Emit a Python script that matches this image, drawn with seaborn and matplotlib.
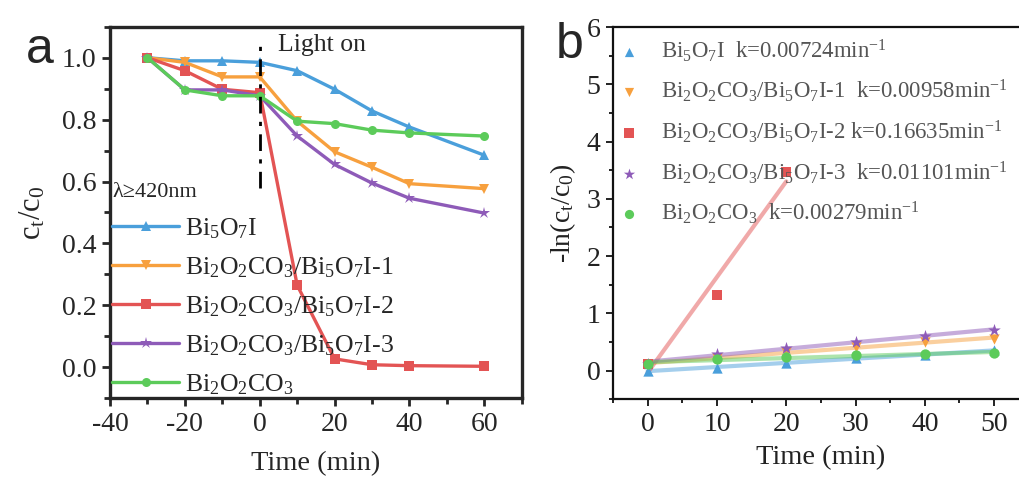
import numpy as np
import pandas as pd
import matplotlib
matplotlib.use("Agg")
import matplotlib.pyplot as plt
import seaborn as sns
from matplotlib.ticker import MultipleLocator

# ---------------- data ----------------
time_a = [-30, -20, -10, 0, 10, 20, 30, 40, 60]
bi5o7i = [1.00, 0.99, 0.99, 0.985, 0.958, 0.898, 0.828, 0.776, 0.685]
comp1 = [1.00, 0.985, 0.938, 0.938, 0.795, 0.696, 0.646, 0.593, 0.577]
comp2 = [1.00, 0.958, 0.898, 0.887, 0.265, 0.027, 0.008, 0.005, 0.003]
comp3 = [1.00, 0.896, 0.896, 0.877, 0.747, 0.655, 0.595, 0.546, 0.498]
bi2o2co3 = [1.00, 0.896, 0.877, 0.877, 0.795, 0.787, 0.766, 0.757, 0.747]

time_b = [0, 10, 20, 30, 40, 50]
time_b_red = [0, 10, 20]
k_bi5o7i = [0.0, 0.05, 0.13, 0.21, 0.27, 0.36]
k_comp1 = [0.11, 0.22, 0.32, 0.415, 0.50, 0.55]
k_comp2 = [0.12, 1.32, 3.46]
k_comp3 = [0.12, 0.29, 0.40, 0.50, 0.61, 0.70]
k_bi2o2co3 = [0.11, 0.20, 0.24, 0.27, 0.29, 0.30]

labels_a = ["Bi$_5$O$_7$I", "Bi$_2$O$_2$CO$_3$/Bi$_5$O$_7$I-1",
            "Bi$_2$O$_2$CO$_3$/Bi$_5$O$_7$I-2", "Bi$_2$O$_2$CO$_3$/Bi$_5$O$_7$I-3",
            "Bi$_2$O$_2$CO$_3$"]
labels_b = ["Bi$_5$O$_7$I  k=0.00724min$^{-1}$",
            "Bi$_2$O$_2$CO$_3$/Bi$_5$O$_7$I-1  k=0.00958min$^{-1}$",
            "Bi$_2$O$_2$CO$_3$/Bi$_5$O$_7$I-2 k=0.16635min$^{-1}$",
            "Bi$_2$O$_2$CO$_3$/Bi$_5$O$_7$I-3  k=0.01101min$^{-1}$",
            "Bi$_2$O$_2$CO$_3$  k=0.00279min$^{-1}$"]

colors = ["#4A9FDB", "#F7A03E", "#E35454", "#8E5BB8", "#5CCB5A"]
markers = ["^", "v", "s", "*", "o"]

# ---------------- style ----------------
sns.set_theme(style="ticks")
plt.rcParams["font.family"] = ["Liberation Serif", "DejaVu Serif"]
plt.rcParams["mathtext.fontset"] = "custom"
plt.rcParams["mathtext.rm"] = "Liberation Serif"
plt.rcParams["mathtext.it"] = "Liberation Serif:italic"
plt.rcParams["mathtext.default"] = "rm"

fig = plt.figure(figsize=(10.19, 4.78), dpi=100)
ax1 = fig.add_axes([0.108, 0.167, 0.404, 0.777])
ax2 = fig.add_axes([0.6016, 0.165, 0.408, 0.7785])

# ---------------- panel a ----------------
series_a = [bi5o7i, comp1, comp2, comp3, bi2o2co3]
for vals, lab, c, m in zip(series_a, labels_a, colors, markers):
    df = pd.DataFrame({"t": time_a, "v": vals})
    ms = 9 if m == "*" else 6.5
    sns.lineplot(data=df, x="t", y="v", ax=ax1, color=c, marker=m,
                 markersize=ms, markeredgewidth=0, linewidth=2.4, label=lab)

ax1.plot([0, 0], [0.578, 1.05], color="black", lw=2, linestyle=(0, (6, 3, 1.5, 3)))
ax1.text(5, 1.04, "Light on", fontsize=18.5, va="center", ha="left")

ax1.set_xlim(-40, 70)
ax1.set_ylim(-0.1, 1.1)
ax1.set_xticks([-40, -20, 0, 20, 40, 60])
ax1.set_xticklabels(["-40", "-20", "0", "20", "40", "60"])
ax1.set_yticks([0.0, 0.2, 0.4, 0.6, 0.8, 1.0])
ax1.set_yticklabels(["0.0", "0.2", "0.4", "0.6", "0.8", "1.0"])
ax1.xaxis.set_minor_locator(MultipleLocator(10))
ax1.yaxis.set_minor_locator(MultipleLocator(0.1))
ax1.tick_params(which="major", direction="out", length=6, width=2, labelsize=20, pad=4)
ax1.tick_params(which="minor", direction="out", length=4, width=2)
for s in ax1.spines.values():
    s.set_linewidth(2.4)
ax1.set_xlabel("Time (min)", fontsize=20.5, labelpad=10)
ax1.set_ylabel("c$_t$/c$_0$", fontsize=22, labelpad=10)

leg = ax1.legend(loc="upper left", bbox_to_anchor=(0.005, 0.58), frameon=False,
                 fontsize=18.5, title="λ≥420nm", title_fontsize=16,
                 handlelength=2.6, handletextpad=0.25, labelspacing=0.56,
                 borderaxespad=0, borderpad=0)
leg._legend_box.align = "left"

fig.text(0.025, 0.895, "a", fontsize=36, family="Liberation Sans", va="center")

# ---------------- panel b ----------------
series_b = [(time_b, k_bi5o7i), (time_b, k_comp1), (time_b_red, k_comp2),
            (time_b, k_comp3), (time_b, k_bi2o2co3)]
for (tx, vals), lab, c, m in zip(series_b, labels_b, colors, markers):
    df = pd.DataFrame({"t": tx, "v": vals})
    ms = 90 if m == "*" else 55
    sns.regplot(data=df, x="t", y="v", ax=ax2, ci=None, color=c, marker=m,
                scatter_kws={"s": ms, "linewidths": 0, "alpha": 1, "zorder": 3},
                line_kws={"lw": 3, "alpha": 0.5, "zorder": 2})
    ax2.scatter([], [], color=c, marker=m, s=ms * 0.8, linewidths=0, label=lab)

ax2.set_xlim(-5, 55)
ax2.set_ylim(-0.5, 6)
ax2.set_xticks([0, 10, 20, 30, 40, 50])
ax2.set_yticks([0, 1, 2, 3, 4, 5, 6])
ax2.xaxis.set_minor_locator(MultipleLocator(5))
ax2.yaxis.set_minor_locator(MultipleLocator(0.5))
ax2.tick_params(which="major", direction="out", length=5, width=1.4, labelsize=20,
                colors="#222222", pad=4)
ax2.tick_params(which="minor", direction="out", length=3, width=1.4, colors="#222222")
for s in ax2.spines.values():
    s.set_linewidth(1.6)
    s.set_color("#111111")
ax2.set_xlabel("Time (min)", fontsize=20.5, labelpad=6, color="#222222")
ax2.set_ylabel("-ln(c$_t$/c$_0$)", fontsize=20, labelpad=6, color="#222222")

ax2.legend(loc="upper left", bbox_to_anchor=(0.0, 0.985), frameon=False,
           fontsize=16.4, handletextpad=0.9, labelspacing=0.62, borderaxespad=0,
           borderpad=0.2, handlelength=1.0, labelcolor="#555555")

fig.text(0.545, 0.905, "b", fontsize=36, family="Liberation Sans", va="center")

fig.savefig("out.png", dpi=100)
